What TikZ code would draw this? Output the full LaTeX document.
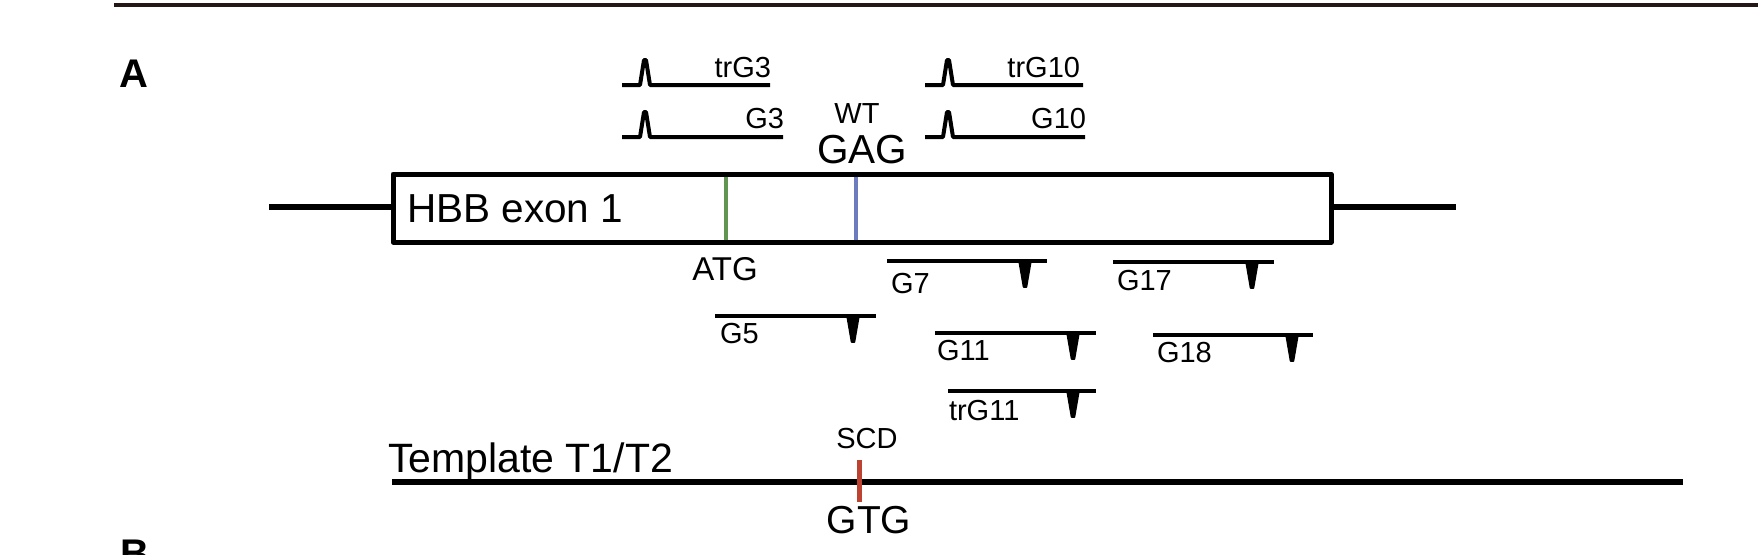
\documentclass[tikz,border=0pt]{standalone}
\usepackage{fontspec}
\setmainfont{Liberation Sans}
\definecolor{rulecol}{RGB}{35,24,21}
\definecolor{atgcol}{RGB}{96,150,82}
\definecolor{wtcol}{RGB}{108,124,190}
\definecolor{scdcol}{RGB}{190,66,50}
\newcommand\upprimer[4]{%
  \draw[primer,line join=round] (#1,#3) -- (#4-5,#3) -- (#4-1,#3-25) -- (#4+1,#3-25) -- (#4+5,#3) -- (#2,#3);}
\newcommand\downprimer[4]{%
  \draw[primer] (#1,#3) -- (#2,#3);
  \filldraw[spike] (#4-6,#3) -- (#4-1.5,#3+26) -- (#4+1.5,#3+26) -- (#4+6,#3) -- cycle;}
\begin{document}
\begin{tikzpicture}[x=1pt,y=-1pt,
  lbl/.style={inner sep=0pt,outer sep=0pt,font=\fontsize{29}{34}\selectfont},
  biglbl/.style={inner sep=0pt,outer sep=0pt,font=\fontsize{40.5}{48}\selectfont},
  panel/.style={inner sep=0pt,outer sep=0pt,font=\fontsize{40}{48}\selectfont\bfseries},
  dnaline/.style={line width=6pt},
  primer/.style={line width=4pt,line cap=butt},
  spike/.style={line width=1.5pt,line join=round}]
\useasboundingbox (0,0) rectangle (1758,554);
% top rule
\draw[rulecol,line width=4pt] (114,5) -- (1758,5);
% panel labels
\node[panel,anchor=base west] (pA) at (119,87) {A};
\node[panel,anchor=base west] (pB) at (120,567) {B};
% gene
\draw[dnaline] (269,207) -- (393,207);
\draw[dnaline] (1331,207) -- (1456,207);
\draw[line width=5pt,line join=round] (393,174) rectangle (1331,242);
\node[biglbl,anchor=base west] (hbb) at (407,222) {HBB exon 1};
\draw[atgcol,line width=3.5pt] (726,176.5) -- (726,239.5);
\draw[wtcol,line width=3.5pt] (856,176.5) -- (856,239.5);
\node[inner sep=0pt,font=\fontsize{33}{40}\selectfont,anchor=base] (atg) at (725,280) {ATG};
\node[biglbl,anchor=base] (gag) at (862,163) {GAG};
\node[lbl,anchor=base] (wt) at (857,123) {WT};
% upper primers
\upprimer{622}{770}{85}{645}
\node[lbl,anchor=base east] (trg3) at (771,77) {trG3};
\upprimer{622}{783}{137}{645}
\node[lbl,anchor=base east] (g3) at (784,128) {G3};
\upprimer{925}{1083}{85}{948}
\node[lbl,anchor=base east] (trg10) at (1080,77) {trG10};
\upprimer{925}{1085}{137}{948}
\node[lbl,anchor=base east] (g10) at (1086,128) {G10};
% lower primers
\downprimer{887}{1047}{261}{1025}
\node[lbl,anchor=base west] (g7) at (891,293) {G7};
\downprimer{1113}{1274}{262}{1252}
\node[lbl,anchor=base west] (g17) at (1117,290) {G17};
\downprimer{715}{876}{316}{853}
\node[lbl,anchor=base west] (g5) at (720,343) {G5};
\downprimer{935}{1096}{333}{1073}
\node[lbl,anchor=base west] (g11) at (937,360) {G11};
\downprimer{1153}{1313}{335}{1292}
\node[lbl,anchor=base west] (g18) at (1157,362) {G18};
\downprimer{948}{1096}{391}{1073}
\node[lbl,anchor=base west] (trg11) at (949,420) {trG11};
% template
\node[inner sep=0pt,font=\fontsize{41}{48}\selectfont,anchor=base west] (tmpl) at (388,472) {Template T1/T2};
\draw[dnaline] (392,482) -- (1683,482);
\draw[scdcol,line width=5pt] (859,460) -- (859,502);
\node[lbl,anchor=base] (scd) at (867,448) {SCD};
\node[inner sep=0pt,font=\fontsize{39}{46}\selectfont,anchor=base] (gtg) at (869,533) {GTG};
\end{tikzpicture}
\end{document}
